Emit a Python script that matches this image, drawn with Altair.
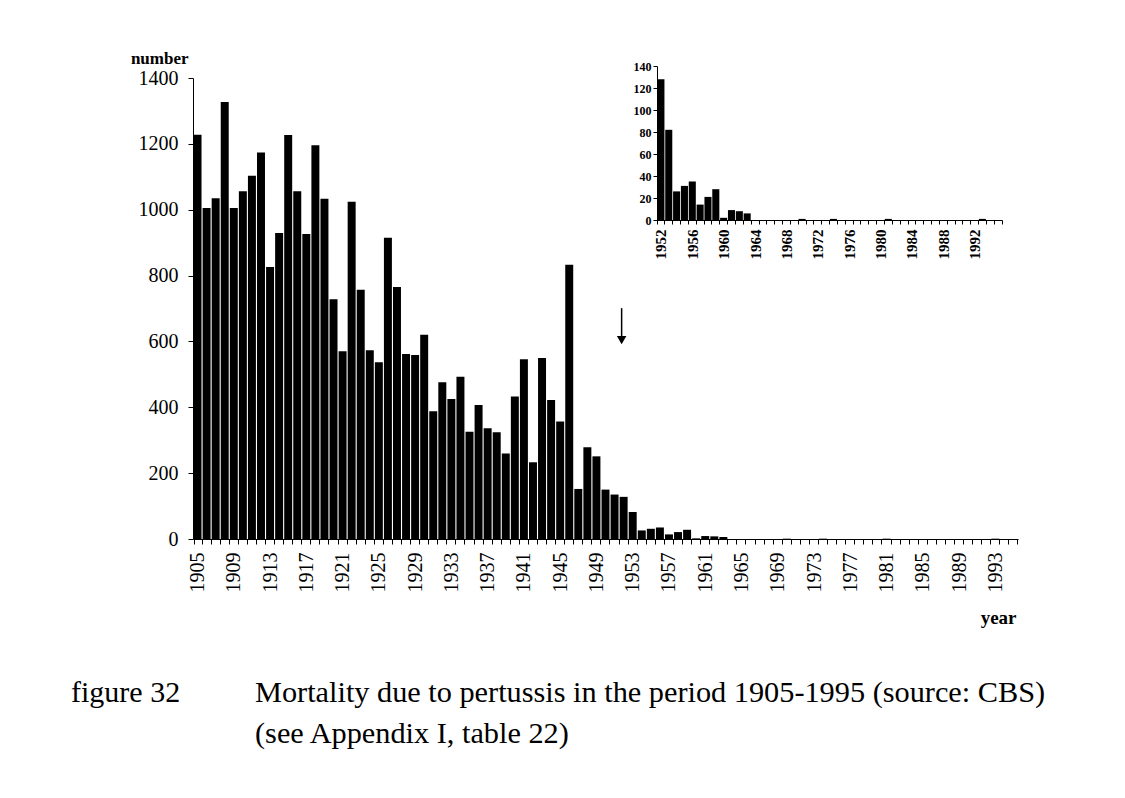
import altair as alt
import pandas as pd

# ---- data ----
years = list(range(1905, 1996))
deaths = [
    1228, 1005, 1035, 1327, 1005, 1056, 1103, 1174, 826, 929,   # 1905-1914
    1227, 1056, 926, 1196, 1033, 728, 570, 1024, 757, 573,      # 1915-1924
    537, 915, 765, 562, 559, 620, 388, 476, 425, 493,           # 1925-1934
    326, 407, 336, 324, 260, 433, 546, 233, 550, 422,           # 1935-1944
    357, 833, 152, 279, 251, 150, 135, 128, 82, 26,             # 1945-1954
    31, 35, 14, 21, 28, 2, 9, 8, 6, 0,                          # 1955-1964
    0, 0, 0, 0, 0, 1, 0, 0, 0, 1,                               # 1965-1974
    0, 0, 0, 0, 0, 0, 1, 0, 0, 0,                               # 1975-1984
    0, 0, 0, 0, 0, 0, 0, 0, 1, 0,                               # 1985-1994
    0,                                                          # 1995
]
inset_years = list(range(1952, 1996))
main_y_ticks = [0, 200, 400, 600, 800, 1000, 1200, 1400]
inset_y_ticks = [0, 20, 40, 60, 80, 100, 120, 140]
arrow_year = 1952
arrow_top, arrow_bottom, arrow_head = 701, 616, 604

caption_label = "figure 32"
caption_line1 = "Mortality due to pertussis in the period 1905-1995 (source: CBS)"
caption_line2 = "(see Appendix I, table 22)"

df = pd.DataFrame({"year": years, "deaths": deaths})

FONT = "Liberation Serif"
W, H = 825, 461

main_x_scale = alt.Scale(domain=years, paddingInner=0.12, paddingOuter=0.06)
main_y_scale = alt.Scale(domain=[0, 1400], nice=False)

base = alt.Chart(df)

main_bars = base.mark_bar(color="black").encode(
    x=alt.X(
        "year:O",
        scale=main_x_scale,
        axis=alt.Axis(
            orient="bottom", values=years,
            labelExpr="(datum.value - 1905) % 4 == 0 ? datum.label : ''",
            labelAngle=-90, labelFont=FONT, labelFontSize=20, labelColor="black",
            labelPadding=8, labelOverlap=False, tickBand="extent", tickSize=5,
            tickColor="black", domainColor="black", grid=False,
            title="year", titleFont=FONT, titleFontSize=19, titleFontWeight="bold",
            titleColor="black", titleX=823, titleY=78, titleAlign="right",
            titleBaseline="middle",
        ),
    ),
    y=alt.Y(
        "deaths:Q",
        scale=main_y_scale,
        axis=alt.Axis(
            orient="left", values=main_y_ticks, format="d", labelFont=FONT, labelFontSize=20,
            labelColor="black", labelPadding=10, tickSize=5, tickColor="black",
            domainColor="black", grid=False,
            title="number", titleFont=FONT, titleFontSize=17, titleFontWeight="bold",
            titleColor="black", titleAngle=0, titleX=-5, titleY=-20,
            titleAlign="right", titleBaseline="middle",
        ),
    ),
)

arrow_shaft = base.transform_filter(f"datum.year == {arrow_year}").mark_rule(
    color="black", strokeWidth=1.5, xOffset=-2
).encode(
    x=alt.X("year:O", scale=main_x_scale),
    y=alt.Y(datum=arrow_top, scale=main_y_scale),
    y2=alt.Y2(datum=arrow_bottom),
)

arrow_tip = base.transform_filter(f"datum.year == {arrow_year}").mark_point(
    shape="triangle-down", filled=True, size=90, color="black", opacity=1, xOffset=-2
).encode(
    x=alt.X("year:O", scale=main_x_scale),
    y=alt.Y(datum=arrow_head, scale=main_y_scale),
)

cap_df = pd.DataFrame({"k": [0]})
cap_a = alt.Chart(cap_df).mark_text(
    text=caption_label, font=FONT, fontSize=30, align="left", baseline="alphabetic", color="black"
).encode(x=alt.value(-122), y=alt.value(624))
cap_b = alt.Chart(cap_df).mark_text(
    text=caption_line1, font=FONT, fontSize=30.3, align="left", baseline="alphabetic", color="black"
).encode(x=alt.value(62), y=alt.value(624))
cap_c = alt.Chart(cap_df).mark_text(
    text=caption_line2, font=FONT, fontSize=30.3, align="left", baseline="alphabetic", color="black"
).encode(x=alt.value(62), y=alt.value(665))

main_layer = alt.layer(main_bars, arrow_shaft, arrow_tip, cap_a, cap_b, cap_c)

inset_bars = base.transform_filter("datum.year >= 1952").mark_bar(color="black").encode(
    x=alt.X(
        "year:O",
        scale=alt.Scale(domain=inset_years, range=[464, 809], paddingInner=0.1, paddingOuter=0.05),
        axis=alt.Axis(
            orient="bottom", offset=-319, values=inset_years,
            labelExpr="(datum.value - 1952) % 4 == 0 ? datum.label : ''",
            labelAngle=-90, labelFont=FONT, labelFontSize=15, labelFontWeight="bold",
            labelColor="black", labelPadding=5, labelOverlap=False, tickBand="extent",
            tickSize=4, tickColor="black", domainColor="black", grid=False, title=None,
        ),
    ),
    y=alt.Y(
        "deaths:Q",
        scale=alt.Scale(domain=[0, 140], range=[142, -12], nice=False),
        axis=alt.Axis(
            orient="left", offset=-464, values=inset_y_ticks, labelFont=FONT,
            labelFontSize=12, labelFontWeight="bold", labelColor="black",
            labelPadding=2, tickSize=4, tickColor="black", domainColor="black",
            grid=False, title=None,
        ),
    ),
)

chart = (
    alt.layer(main_layer, inset_bars)
    .resolve_scale(x="independent", y="independent")
    .properties(
        width=W, height=H,
        padding={"left": 185, "top": 70, "right": 90, "bottom": 240},
        autosize=alt.AutoSizeParams(type="none"),
        background="white",
    )
    .configure_view(stroke=None)
)

chart.save("out.html", embed_options={"renderer": "svg", "actions": False})
